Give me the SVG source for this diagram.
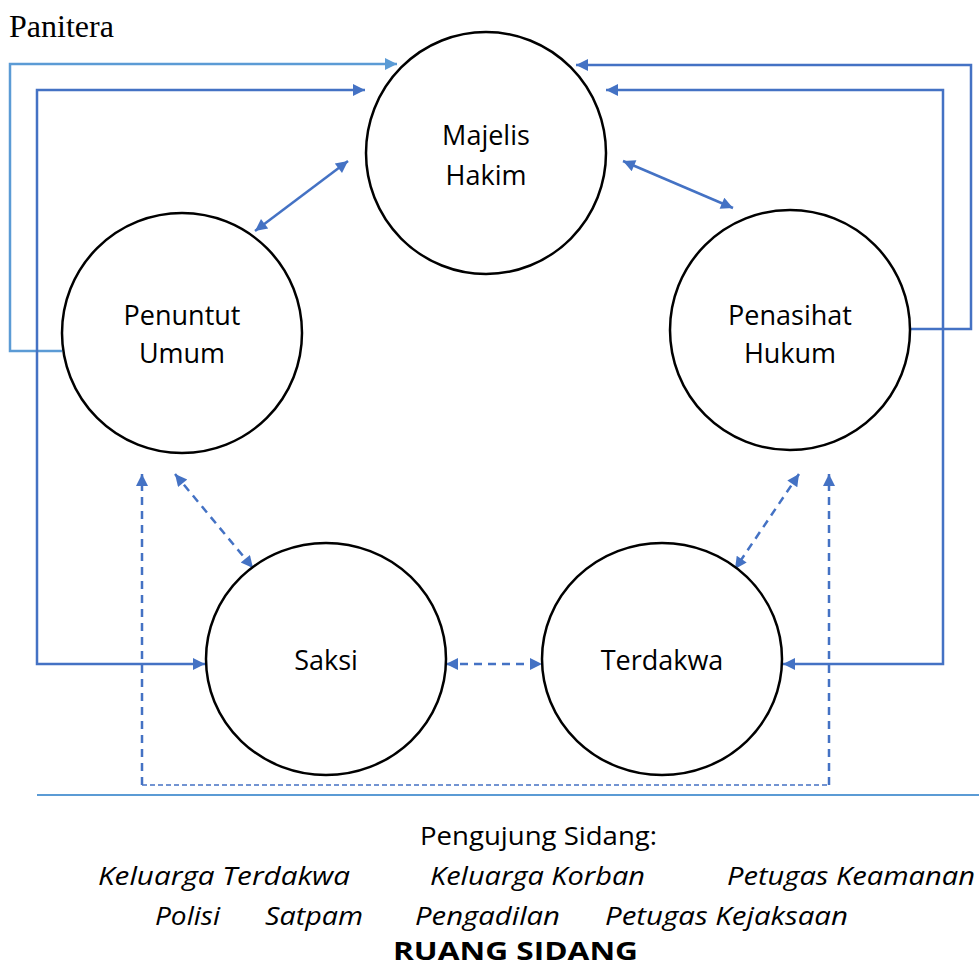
<svg xmlns="http://www.w3.org/2000/svg" width="979" height="969" viewBox="0 0 979 969">
<style>
.node{fill:#fff;stroke:#000;stroke-width:2.5}
.lbl{font-family:"Open Sans","Noto Sans",sans-serif;font-size:27px;fill:#000;text-anchor:middle}
.c{fill:none;stroke:#4472C4;stroke-width:2.5}
.lc{fill:none;stroke:#5B9BD5;stroke-width:2.5}
.d{fill:none;stroke:#4472C4;stroke-width:2.5;stroke-dasharray:8 6}
.bt{font-family:"Open Sans","Noto Sans",sans-serif;font-size:25px;fill:#000}
</style>
<defs>
<marker id="a" viewBox="0 0 10 10" refX="10" refY="5" markerWidth="15" markerHeight="12" markerUnits="userSpaceOnUse" orient="auto-start-reverse"><path d="M0,0 L10,5 L0,10 z" fill="#4472C4"/></marker>
<marker id="al" viewBox="0 0 10 10" refX="10" refY="5" markerWidth="15" markerHeight="12" markerUnits="userSpaceOnUse" orient="auto-start-reverse"><path d="M0,0 L10,5 L0,10 z" fill="#5B9BD5"/></marker>
</defs>
<text x="9" y="37" font-family="'Liberation Serif',serif" font-size="32" fill="#000">Panitera</text>
<g id="connectors">
<path class="lc" d="M62,351 H10 V64 H397" marker-end="url(#al)"/>
<path class="c" d="M205,664 H37 V90 H365" marker-start="url(#a)" marker-end="url(#a)"/>
<path class="c" d="M910,329 H971 V65 H576" marker-end="url(#a)"/>
<path class="c" d="M783,664 H943 V90 H606" marker-start="url(#a)" marker-end="url(#a)"/>
<path class="c" d="M255,231 L348,161" marker-start="url(#a)" marker-end="url(#a)"/>
<path class="c" d="M623,161 L733,208" marker-start="url(#a)" marker-end="url(#a)"/>
<path class="d" d="M175,474 L253,568" marker-start="url(#a)" marker-end="url(#a)"/>
<path class="d" d="M446,664 L542,664" marker-start="url(#a)" marker-end="url(#a)"/>
<path class="d" d="M799,474 L735,569" marker-start="url(#a)" marker-end="url(#a)"/>
<path class="d" d="M142,785 V474" marker-end="url(#a)"/>
<path class="d" d="M829,785 V474" marker-end="url(#a)"/>
<path d="M142,785 H829" fill="none" stroke="#4472C4" stroke-width="1.5" stroke-dasharray="5 3"/>
<path d="M37,795 H979" fill="none" stroke="#5B9BD5" stroke-width="2"/>
</g>
<g id="majelis"><ellipse class="node" cx="486" cy="153" rx="120" ry="121"/><text class="lbl" x="486" y="145">Majelis</text><text class="lbl" x="486" y="185">Hakim</text></g>
<g id="penuntut"><ellipse class="node" cx="182" cy="333" rx="120" ry="120"/><text class="lbl" x="182" y="325">Penuntut</text><text class="lbl" x="182" y="363">Umum</text></g>
<g id="penasihat"><ellipse class="node" cx="790" cy="330" rx="120" ry="120"/><text class="lbl" x="790" y="325">Penasihat</text><text class="lbl" x="790" y="363">Hukum</text></g>
<g id="saksi"><ellipse class="node" cx="326" cy="659" rx="120" ry="116"/><text class="lbl" x="326" y="670">Saksi</text></g>
<g id="terdakwa"><ellipse class="node" cx="662" cy="659" rx="120" ry="116"/><text class="lbl" x="662" y="670">Terdakwa</text></g>
<g id="legend">
<text class="bt" x="420" y="845" textLength="237" lengthAdjust="spacingAndGlyphs">Pengujung Sidang:</text>
<g font-style="italic">
<text class="bt" x="98" y="885" textLength="252" lengthAdjust="spacingAndGlyphs">Keluarga Terdakwa</text>
<text class="bt" x="430" y="885" textLength="215" lengthAdjust="spacingAndGlyphs">Keluarga Korban</text>
<text class="bt" x="727" y="885" textLength="248" lengthAdjust="spacingAndGlyphs">Petugas Keamanan</text>
<text class="bt" x="155" y="925" textLength="65" lengthAdjust="spacingAndGlyphs">Polisi</text>
<text class="bt" x="265" y="925" textLength="98" lengthAdjust="spacingAndGlyphs">Satpam</text>
<text class="bt" x="415" y="925" textLength="145" lengthAdjust="spacingAndGlyphs">Pengadilan</text>
<text class="bt" x="605" y="925" textLength="243" lengthAdjust="spacingAndGlyphs">Petugas Kejaksaan</text>
</g>
<text class="bt" x="393" y="960" font-weight="bold" font-size="32" textLength="245" lengthAdjust="spacingAndGlyphs">RUANG SIDANG</text>
</g>
</svg>
